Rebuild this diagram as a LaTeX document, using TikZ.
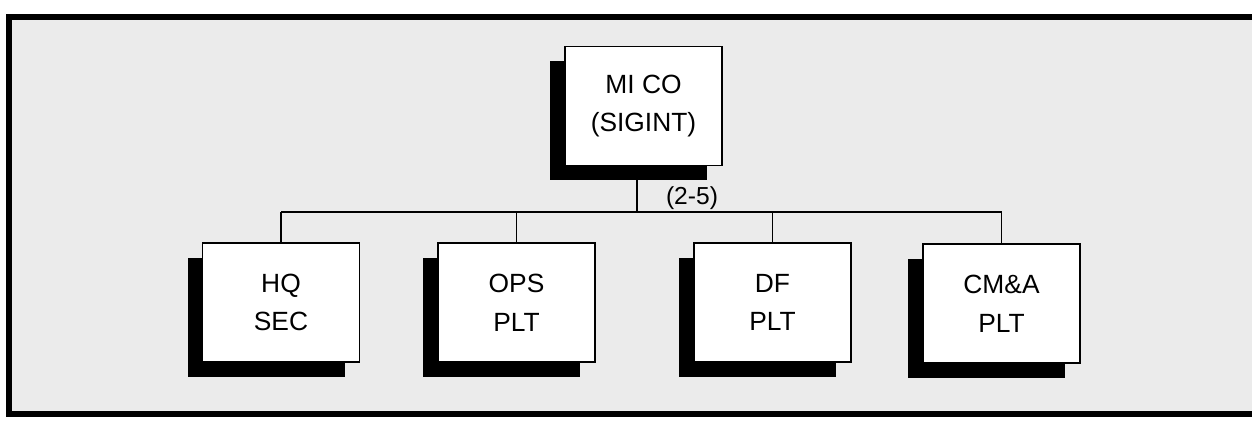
\documentclass[tikz,border=0pt]{standalone}
\usepackage{fontspec}
\setmainfont{Liberation Sans}
\usetikzlibrary{positioning,shadows}

\begin{document}
\begin{tikzpicture}[
  unit/.style={draw,line width=1pt,fill=white,minimum width=3.14cm,minimum height=2.38cm,
    align=center,font=\fontsize{15}{22}\selectfont,
    drop shadow={shadow xshift=-0.3cm,shadow yshift=-0.3cm,fill=black,opacity=1}},
  link/.style={line width=0.8pt}]
  \clip (0,0) rectangle (25.04,8.4);
  \draw[line width=3.4pt,fill=black!8] (0.18,0.12) rectangle (25.4,8.06);
  % company and platoons
  \node[unit] (mico) at (12.87,6.28) {MI CO\\(SIGINT)};
  \node[unit] (hq) at (5.62,2.35) {HQ\\SEC};
  \node[unit] (ops) at (10.33,2.35) {OPS\\PLT};
  \node[unit] (df) at (15.45,2.35) {DF\\PLT};
  \node[unit] (cma) at (20.03,2.33) {CM\&A\\PLT};
  \node[font=\fontsize{14}{16}\selectfont] (span) at (13.84,4.44) {(2-5)};
  % lines
  \coordinate (bus) at (12.74,4.16);
  \draw[link] (bus) -- (bus |- mico.south);
  \draw[link] (hq.north |- bus) -- (cma.north |- bus);
  \foreach \u in {hq,ops,df,cma}
    \draw[link] (\u.north) -- (\u.north |- bus);
\end{tikzpicture}
\end{document}
